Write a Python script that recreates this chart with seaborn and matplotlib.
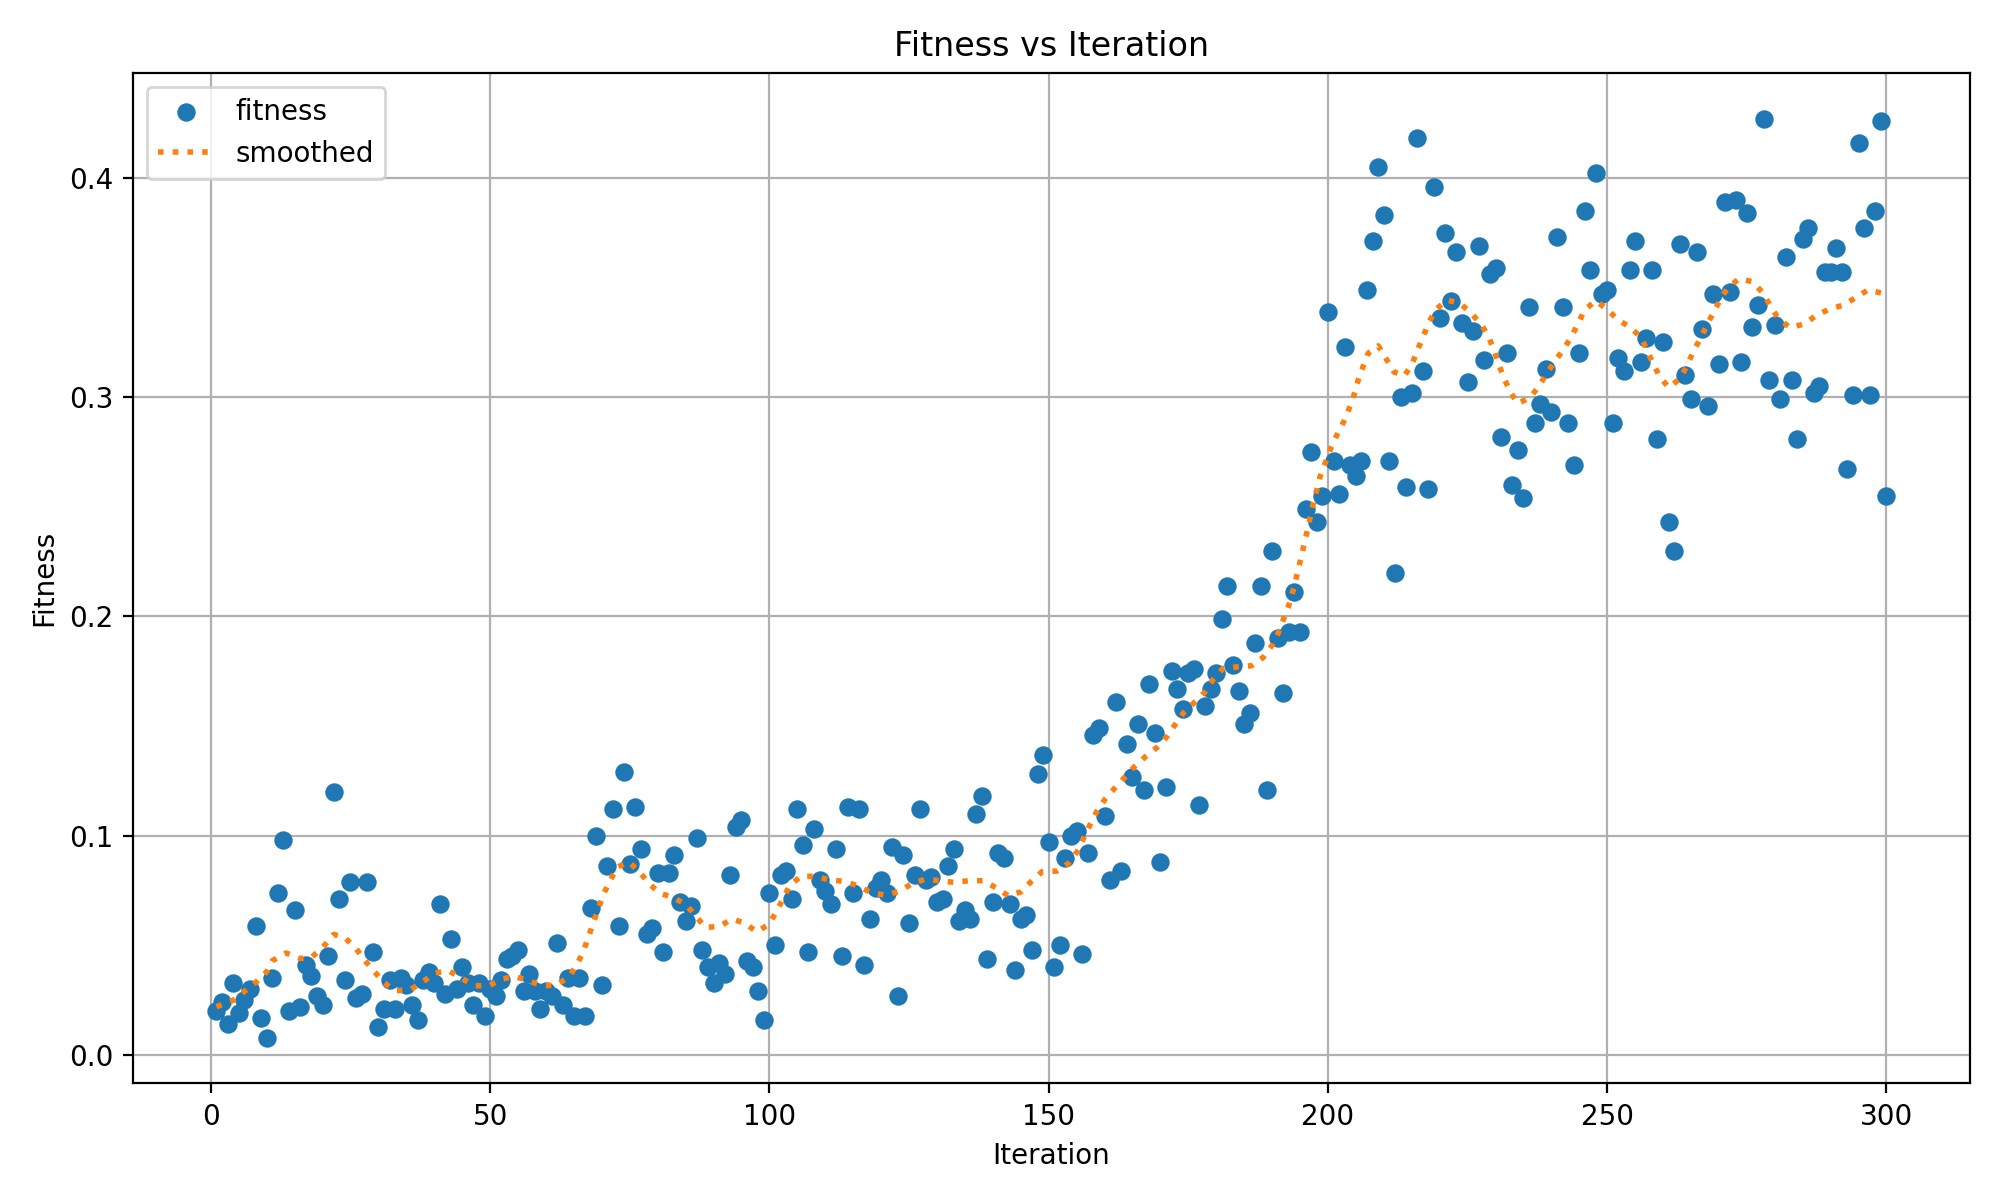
import numpy as np
import pandas as pd
import matplotlib
matplotlib.use("Agg")
import matplotlib.pyplot as plt
import seaborn as sns

# fitness value per iteration (1..300)
fitness = [
    0.020, 0.024, 0.014, 0.033, 0.019, 0.025, 0.030, 0.059, 0.017, 0.008,
    0.035, 0.074, 0.098, 0.020, 0.066, 0.022, 0.041, 0.036, 0.027, 0.023,
    0.045, 0.120, 0.071, 0.034, 0.079, 0.026, 0.028, 0.079, 0.047, 0.013,
    0.021, 0.034, 0.021, 0.035, 0.032, 0.023, 0.016, 0.034, 0.038, 0.033,
    0.069, 0.028, 0.053, 0.030, 0.040, 0.033, 0.023, 0.033, 0.018, 0.030,
    0.027, 0.034, 0.044, 0.045, 0.048, 0.029, 0.037, 0.029, 0.021, 0.029,
    0.027, 0.051, 0.023, 0.035, 0.018, 0.035, 0.018, 0.067, 0.100, 0.032,
    0.086, 0.112, 0.059, 0.129, 0.087, 0.113, 0.094, 0.055, 0.058, 0.083,
    0.047, 0.083, 0.091, 0.070, 0.061, 0.068, 0.099, 0.048, 0.040, 0.033,
    0.042, 0.037, 0.082, 0.104, 0.107, 0.043, 0.040, 0.029, 0.016, 0.074,
    0.050, 0.082, 0.084, 0.071, 0.112, 0.096, 0.047, 0.103, 0.080, 0.075,
    0.069, 0.094, 0.045, 0.113, 0.074, 0.112, 0.041, 0.062, 0.076, 0.080,
    0.074, 0.095, 0.027, 0.091, 0.060, 0.082, 0.112, 0.080, 0.081, 0.070,
    0.071, 0.086, 0.094, 0.061, 0.066, 0.062, 0.110, 0.118, 0.044, 0.070,
    0.092, 0.090, 0.069, 0.039, 0.062, 0.064, 0.048, 0.128, 0.137, 0.097,
    0.040, 0.050, 0.090, 0.100, 0.102, 0.046, 0.092, 0.146, 0.149, 0.109,
    0.080, 0.161, 0.084, 0.142, 0.127, 0.151, 0.121, 0.169, 0.147, 0.088,
    0.122, 0.175, 0.167, 0.158, 0.174, 0.176, 0.114, 0.159, 0.167, 0.174,
    0.199, 0.214, 0.178, 0.166, 0.151, 0.156, 0.188, 0.214, 0.121, 0.230,
    0.190, 0.165, 0.193, 0.211, 0.193, 0.249, 0.275, 0.243, 0.255, 0.339,
    0.271, 0.256, 0.323, 0.269, 0.264, 0.271, 0.349, 0.371, 0.405, 0.383,
    0.271, 0.220, 0.300, 0.259, 0.302, 0.418, 0.312, 0.258, 0.396, 0.336,
    0.375, 0.344, 0.366, 0.334, 0.307, 0.330, 0.369, 0.317, 0.356, 0.359,
    0.282, 0.320, 0.260, 0.276, 0.254, 0.341, 0.288, 0.297, 0.313, 0.293,
    0.373, 0.341, 0.288, 0.269, 0.320, 0.385, 0.358, 0.402, 0.347, 0.349,
    0.288, 0.318, 0.312, 0.358, 0.371, 0.316, 0.327, 0.358, 0.281, 0.325,
    0.243, 0.230, 0.370, 0.310, 0.299, 0.366, 0.331, 0.296, 0.347, 0.315,
    0.389, 0.348, 0.390, 0.316, 0.384, 0.332, 0.342, 0.427, 0.308, 0.333,
    0.299, 0.364, 0.308, 0.281, 0.372, 0.377, 0.302, 0.305, 0.357, 0.357,
    0.368, 0.357, 0.267, 0.301, 0.416, 0.377, 0.301, 0.385, 0.426, 0.255,
]
iterations = list(range(1, len(fitness) + 1))

# smoothed curve at these iterations
smooth_x = [
    1, 4, 6, 8, 10, 11, 13.5, 16, 18, 20, 22, 24, 26, 27.5, 29.3, 31, 33, 35.7,
    38, 40, 42.6, 44.8, 47.2, 49.7, 52, 54.5, 57, 59.6, 62, 64.3, 65.7, 66.8,
    68.5, 70.3, 72.7, 74.8, 76.7, 78.4, 80.3, 82.9, 85.1, 86.8, 88.5, 91, 93.3,
    95.6, 97.7, 99.8, 101.2, 102.4, 103.6, 105.6, 108.1, 110.7, 113.3, 115.8,
    118.1, 120.7, 123.3, 125.4, 127.9, 130.5, 133.1, 135.7, 138.3, 140.5,
    142.8, 145.1, 146.9, 148.8, 151.5, 153.6, 155.1, 156.3, 157.4, 158.6,
    160.1, 161.8, 163.6, 165.4, 167.3, 169.4, 171.2, 172.7, 174.2, 176.1, 178,
    179.5, 181.2, 183.8, 186.3, 188.4, 190, 191.2, 192.1, 193, 194, 195, 196.2,
    197.3, 198.6, 199.6, 200.5, 201.6, 202.8, 203.8, 204.7, 205.4, 206.3,
    207.2, 209, 210.4, 211.8, 213.7, 215.1, 216.1, 217.1, 218.1, 219.4, 221.3,
    223.7, 225.7, 227.5, 228.8, 229.8, 230.6, 231.6, 232.7, 234, 236.2, 237.8,
    239.2, 240.6, 242.2, 243.6, 244.8, 245.9, 247.9, 250, 251.8, 254, 256,
    257.1, 258.2, 259.4, 261, 263.1, 264.3, 265.4, 266.6, 267.8, 269, 270.3,
    271.6, 273.7, 276.1, 277.9, 279.2, 280.6, 282.7, 285.2, 287.3, 289.7,
    292.2, 294.5, 296.7, 299.2, 300,
]
smooth_y = [
    0.022, 0.025, 0.029, 0.033, 0.038, 0.043, 0.0465, 0.044, 0.0445, 0.049,
    0.055, 0.0535, 0.0486, 0.0433, 0.038, 0.033, 0.0293, 0.0298, 0.0334,
    0.0374, 0.0384, 0.0351, 0.0316, 0.0315, 0.0346, 0.0359, 0.0336, 0.0316,
    0.032, 0.0362, 0.042, 0.048, 0.0605, 0.0734, 0.0856, 0.0881, 0.0837,
    0.0783, 0.0739, 0.0717, 0.0685, 0.0635, 0.0582, 0.0586, 0.062, 0.0602,
    0.0562, 0.0594, 0.065, 0.0711, 0.0772, 0.0815, 0.0815, 0.0799, 0.0792,
    0.0772, 0.0742, 0.0729, 0.0746, 0.078, 0.0802, 0.0795, 0.0787, 0.0795,
    0.0795, 0.0764, 0.0726, 0.0745, 0.0792, 0.0836, 0.0839, 0.0875, 0.0928,
    0.0992, 0.105, 0.111, 0.1167, 0.1216, 0.1266, 0.1316, 0.136, 0.1403,
    0.1453, 0.1509, 0.1562, 0.1608, 0.1656, 0.1714, 0.1763, 0.177, 0.1775,
    0.1813, 0.1869, 0.193, 0.1991, 0.2052, 0.214, 0.2249, 0.238, 0.2507,
    0.2638, 0.2705, 0.2766, 0.2827, 0.2887, 0.2948, 0.3013, 0.3077, 0.314,
    0.32, 0.3234, 0.3176, 0.3115, 0.3097, 0.3153, 0.3219, 0.3279, 0.3343,
    0.3401, 0.3443, 0.3427, 0.3381, 0.333, 0.3272, 0.3211, 0.3147, 0.3082,
    0.3021, 0.2971, 0.2998, 0.3051, 0.3109, 0.3162, 0.3219, 0.3276, 0.3336,
    0.3396, 0.3439, 0.3401, 0.3355, 0.332, 0.3275, 0.3216, 0.3153, 0.3094,
    0.3044, 0.3085, 0.3146, 0.3206, 0.3264, 0.3325, 0.3386, 0.3447, 0.35,
    0.3541, 0.3525, 0.3474, 0.3416, 0.336, 0.3317, 0.3333, 0.337, 0.3401,
    0.3419, 0.3454, 0.3489, 0.3474, 0.346,
]


def show_fitness():
    df = pd.DataFrame({"Iteration": iterations, "Fitness": fitness})
    df_smooth = pd.DataFrame({"Iteration": smooth_x, "Fitness": smooth_y})

    fig, ax = plt.subplots(figsize=(10, 6), dpi=200)
    sns.scatterplot(data=df, x="Iteration", y="Fitness", ax=ax,
                    color="tab:blue", s=44, linewidth=0, label="fitness",
                    zorder=3)
    sns.lineplot(data=df_smooth, x="Iteration", y="Fitness", ax=ax,
                 color="tab:orange", linestyle=":", linewidth=2,
                 label="smoothed", zorder=4)
    ax.set_title("Fitness vs Iteration")
    ax.set_xlabel("Iteration")
    ax.set_ylabel("Fitness")
    ax.set_xticks(np.arange(0, 301, 50))
    ax.set_yticks([0.0, 0.1, 0.2, 0.3, 0.4])
    ax.grid(True)
    ax.set_axisbelow(True)
    ax.legend(loc="upper left")
    plt.tight_layout()
    plt.savefig("out.png")


def main():
    show_fitness()


if __name__ == "__main__":
    main()
